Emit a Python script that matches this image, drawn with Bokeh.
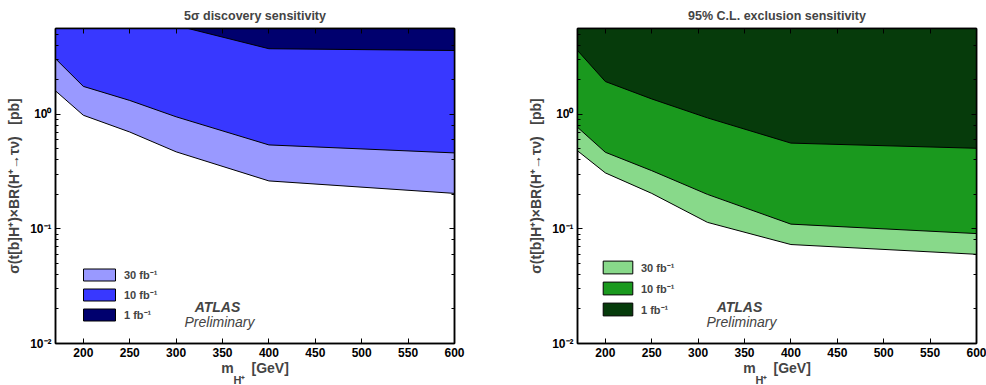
from bokeh.plotting import figure
from bokeh.layouts import row
from bokeh.models import (Range1d, FixedTicker, CustomJSTickFormatter, LinearAxis, LogAxis,
                          Legend, LegendItem, Label, Title)
from bokeh.embed import file_html
from bokeh.resources import INLINE

# ---------------- data ----------------
mass_disc = [170, 200, 250, 300, 400, 600]
disc_30fb = [1.60, 0.98, 0.70, 0.47, 0.262, 0.204]   # lower edge of 5 sigma region, 30 fb-1
disc_10fb = [3.05, 1.75, 1.32, 0.95, 0.54, 0.46]     # 10 fb-1
disc_1fb = [12.0, 10.0, 7.5, 5.95, 3.73, 3.60]       # 1 fb-1

mass_excl = [170, 200, 250, 310, 400, 600]
excl_30fb = [0.48, 0.308, 0.204, 0.114, 0.073, 0.060]
excl_10fb = [0.77, 0.466, 0.322, 0.200, 0.110, 0.091]
excl_1fb = [3.60, 1.93, 1.36, 0.93, 0.56, 0.505]

lumi_labels = ["30 fb\u207b\u00b9", "10 fb\u207b\u00b9", "1 fb\u207b\u00b9"]
x_ticks = [200, 250, 300, 350, 400, 450, 500, 550, 600]
X_RANGE = (170, 600)
Y_RANGE = (0.01, 5.6)
BAND_TOP = 100.0

FONT = "Liberation Sans"
NB = "\u00a0"

SUP_JS = """
const sup = {'-':'\u207b','0':'\u2070','1':'\u00b9','2':'\u00b2','3':'\u00b3','4':'\u2074',
             '5':'\u2075','6':'\u2076','7':'\u2077','8':'\u2078','9':'\u2079'};
const e = Math.round(Math.log10(tick));
return '10' + String(e).split('').map(c => sup[c]).join('');
"""


def style_axis(ax, labels=True):
    ax.axis_line_color = "black"
    ax.axis_line_width = 1.5
    ax.major_tick_in = 5
    ax.major_tick_out = 0
    ax.minor_tick_in = 3
    ax.minor_tick_out = 0
    ax.major_tick_line_color = "black"
    ax.minor_tick_line_color = "black"
    ax.major_label_text_font = FONT
    ax.major_label_text_font_style = "bold"
    ax.major_label_text_font_size = "12px"
    ax.major_label_text_color = "black"
    ax.major_label_standoff = 4
    if not labels:
        ax.formatter = CustomJSTickFormatter(code="return '';")
        ax.major_label_text_font_size = "1px"
        ax.major_label_standoff = 0


def make_panel(title, mass, lower30, lower10, lower1, colors, width, bl, br,
               leg_loc, glyph_w, glyph_h):
    p = figure(width=width, height=385, y_axis_type="log",
               x_range=Range1d(*X_RANGE), y_range=Range1d(*Y_RANGE),
               output_backend="svg", toolbar_location=None,
               min_border_left=bl, min_border_right=br,
               min_border_top=28, min_border_bottom=42)
    p.grid.visible = False
    p.outline_line_color = "black"
    p.outline_line_width = 1.5
    p.background_fill_color = "white"
    p.border_fill_color = "white"

    p.title.text = title
    p.title.align = "center"
    p.title.text_font = FONT
    p.title.text_font_style = "bold"
    p.title.text_font_size = "12.5px"
    p.title.standoff = 11

    top = [BAND_TOP] * len(mass)
    rends = []
    for lower, col in zip([lower30, lower10, lower1], colors):
        xs = list(mass) + list(mass)[::-1]
        ys = list(lower) + top[::-1]
        r = p.patch(xs, ys, fill_color=col, line_color="black", line_width=1)
        rends.append(r)

    # bottom axis
    xa = p.xaxis[0]
    xa.ticker = FixedTicker(ticks=x_ticks, minor_ticks=[])
    style_axis(xa)
    xa.axis_label = "m" + "\u2003" + NB + "[GeV]"
    xa.axis_label_text_font = FONT
    xa.axis_label_text_font_style = "bold"
    xa.axis_label_text_font_size = "14px"
    xa.axis_label_standoff = 0
    # left axis
    ya = p.yaxis[0]
    style_axis(ya)
    ya.formatter = CustomJSTickFormatter(code=SUP_JS)
    ya.axis_label = "\u03c3(t[b]H\u207a)\u00d7BR(H\u207a\u2192\u03c4\u03bd)" + NB * 3 + "[pb]"
    ya.axis_label_text_font = FONT
    ya.axis_label_text_font_style = "bold"
    ya.axis_label_text_font_size = "14px"
    ya.axis_label_standoff = 5

    # subscript of the x-axis label (H+)
    sub = Title(text="H\u207a", align="left", offset=178, vertical_align="top",
                standoff=-9, text_font=FONT, text_font_style="bold",
                text_font_size="11px")
    p.add_layout(sub, "below")

    # mirror axes
    top_ax = LinearAxis(ticker=FixedTicker(ticks=x_ticks, minor_ticks=[]))
    style_axis(top_ax, labels=False)
    p.add_layout(top_ax, "above")
    right_ax = LogAxis()
    style_axis(right_ax, labels=False)
    p.add_layout(right_ax, "right")

    # legend
    items = [LegendItem(label=lab, renderers=[r]) for lab, r in zip(lumi_labels, rends)]
    leg = Legend(items=items, location=leg_loc, padding=0, margin=0, spacing=5,
                 glyph_width=glyph_w, glyph_height=glyph_h, label_height=glyph_h,
                 label_standoff=5, border_line_alpha=0, background_fill_alpha=0,
                 label_text_font=FONT, label_text_font_style="bold",
                 label_text_font_size="11px")
    p.add_layout(leg)

    # ATLAS Preliminary
    p.add_layout(Label(x=162, y=37, x_units="screen", y_units="screen", text="ATLAS",
                       text_align="center", text_baseline="middle", text_font=FONT,
                       text_font_style="bold italic", text_font_size="14px"))
    p.add_layout(Label(x=164, y=22, x_units="screen", y_units="screen", text="Preliminary",
                       text_align="center", text_baseline="middle", text_font=FONT,
                       text_font_style="italic", text_font_size="14px"))
    return p


left = make_panel("5\u03c3 discovery sensitivity", mass_disc, disc_30fb, disc_10fb, disc_1fb,
                  ["#9999ff", "#3838ff", "#00006e"], 496, 55, 42, (24, 21), 40, 15)
right = make_panel("95% C.L. exclusion sensitivity", mass_excl, excl_30fb, excl_10fb, excl_1fb,
                   ["#88d98a", "#1a991e", "#063b0b"], 490, 81, 10, (22, 26), 37, 16)

layout = row(left, right)
open("out.html", "w").write(file_html(layout, INLINE))
